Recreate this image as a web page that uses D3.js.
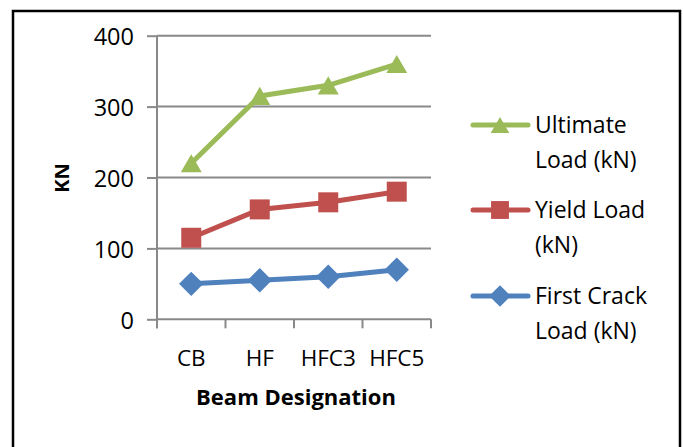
<!DOCTYPE html>
<html>
<head>
<meta charset="utf-8">
<script src="https://cdn.jsdelivr.net/npm/d3@7"></script>
<style>
  html, body { margin: 0; padding: 0; background: #fff; }
  svg { display: block; font-family: "Open Sans", "Noto Sans", sans-serif; }
</style>
</head>
<body>
<svg id="chart" width="683" height="447"></svg>
<script>
// Beam test results
const categories = ["CB", "HF", "HFC3", "HFC5"];
const firstCrack = [50, 55, 60, 70];
const yieldLoad = [115, 155, 165, 180];
const ultimateLoad = [220, 315, 330, 360];
const yTicks = [0, 100, 200, 300, 400];

const series = [
  { name: ["Ultimate", "Load (kN)"], values: ultimateLoad, color: "#9BBB59", shape: "triangle" },
  { name: ["Yield Load", "(kN)"], values: yieldLoad, color: "#C0504D", shape: "square" },
  { name: ["First Crack", "Load (kN)"], values: firstCrack, color: "#4F81BD", shape: "diamond" }
];

const svg = d3.select("#chart");

// outer frame
svg.append("rect")
  .attr("x", 13).attr("y", 11)
  .attr("width", 667).attr("height", 445)
  .attr("fill", "none").attr("stroke", "#000").attr("stroke-width", 2.5);

const plot = { left: 157, right: 431, top: 35.7, bottom: 319.3 };

const x = d3.scaleBand().domain(categories).range([plot.left, plot.right]).padding(0);
const y = d3.scaleLinear().domain([0, 400]).range([plot.bottom, plot.top]);

const grid = "#898989";

// horizontal gridlines
svg.append("g").selectAll("line").data(yTicks.filter(t => t > 0)).join("line")
  .attr("x1", plot.left).attr("x2", plot.right)
  .attr("y1", d => y(d)).attr("y2", d => y(d))
  .attr("stroke", grid).attr("stroke-width", 2);

// y axis
const yAxis = svg.append("g")
  .attr("transform", `translate(${plot.left},0)`)
  .call(d3.axisLeft(y).tickValues(yTicks).tickSize(10).tickSizeOuter(0).tickPadding(13));
yAxis.select(".domain").remove();
yAxis.selectAll(".tick line").attr("stroke", grid).attr("stroke-width", 2);
yAxis.selectAll(".tick text")
  .attr("font-size", 23.5).attr("fill", "#000")
  .attr("font-family", "'Open Sans', sans-serif")
  .attr("dy", "0.38em");
svg.append("line")
  .attr("x1", plot.left).attr("x2", plot.left)
  .attr("y1", plot.top).attr("y2", plot.bottom + 9)
  .attr("stroke", grid).attr("stroke-width", 2);

// x axis
svg.append("line")
  .attr("x1", plot.left).attr("x2", plot.right)
  .attr("y1", plot.bottom).attr("y2", plot.bottom)
  .attr("stroke", grid).attr("stroke-width", 2);
const edges = categories.map(c => x(c)).concat([x(categories[categories.length - 1]) + x.bandwidth()]);
svg.append("g").selectAll("line").data(edges).join("line")
  .attr("x1", d => d).attr("x2", d => d)
  .attr("y1", plot.bottom).attr("y2", plot.bottom + 9)
  .attr("stroke", grid).attr("stroke-width", 2);
svg.append("g").selectAll("text").data(categories).join("text")
  .attr("x", d => x(d) + x.bandwidth() / 2)
  .attr("y", 366)
  .attr("text-anchor", "middle")
  .attr("font-size", 22.5)
  .text(d => d);

// axis titles
svg.append("text")
  .attr("x", 296).attr("y", 405)
  .attr("text-anchor", "middle")
  .attr("font-size", 22).attr("font-weight", "bold")
  .text("Beam Designation");
svg.append("text")
  .attr("transform", "translate(69,178) rotate(-90)")
  .attr("text-anchor", "middle")
  .attr("font-size", 20).attr("font-weight", "bold")
  .text("KN");

// marker shapes
const symbolOf = {
  triangle: d3.symbol().type(d3.symbolTriangle).size(190),
  square: d3.symbol().type(d3.symbolSquare).size(400),
  diamond: d3.symbol().type(d3.symbolDiamond2 || d3.symbolDiamond).size(380)
};
// d3 triangles sit on their centroid; nudge them so the box is centred on the point
const markerShift = { triangle: 3, square: 0, diamond: 0 };

const cx = c => x(c) + x.bandwidth() / 2;
const line = d3.line().x((d, i) => cx(categories[i])).y(d => y(d));

series.slice().reverse().forEach(s => {
  svg.append("path")
    .attr("d", line(s.values))
    .attr("fill", "none").attr("stroke", s.color)
    .attr("stroke-width", 5).attr("stroke-linejoin", "round").attr("stroke-linecap", "round");
  svg.append("g").selectAll("path").data(s.values).join("path")
    .attr("transform", (d, i) => `translate(${cx(categories[i])},${y(d) + markerShift[s.shape]})`)
    .attr("d", symbolOf[s.shape])
    .attr("fill", s.color);
});

// legend
const legendTop = [125, 210, 296];
const legend = svg.append("g");
series.forEach((s, i) => {
  const g = legend.append("g").attr("transform", `translate(0,${legendTop[i]})`);
  g.append("line").attr("x1", 473).attr("x2", 528).attr("y1", 0).attr("y2", 0)
    .attr("stroke", s.color).attr("stroke-width", 5).attr("stroke-linecap", "round");
  const sym = s.shape === "triangle" ? d3.symbol().type(d3.symbolTriangle).size(150)
    : s.shape === "square" ? d3.symbol().type(d3.symbolSquare).size(320)
    : d3.symbol().type(d3.symbolDiamond2 || d3.symbolDiamond).size(300);
  g.append("path").attr("transform", `translate(500,${markerShift[s.shape] * 0.9})`)
    .attr("d", sym).attr("fill", s.color);
  s.name.forEach((t, j) => {
    g.append("text").attr("x", 535).attr("y", 8 + j * 35)
      .attr("font-size", 23).text(t);
  });
});
</script>
</body>
</html>
